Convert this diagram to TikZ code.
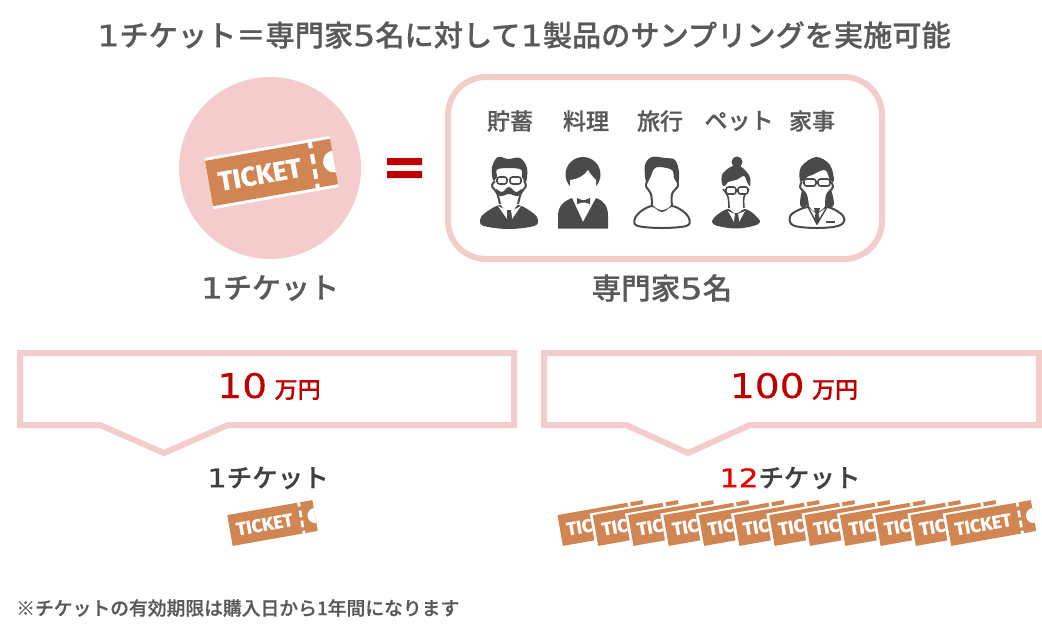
\documentclass[tikz,border=0pt]{standalone}
\usepackage{fontspec}
\setmainfont[BoldFont={Noto Sans CJK JP Medium},BoldFeatures={FakeBold=0.6}]{Noto Sans CJK JP}
\newfontfamily\dgfont[FakeStretch=1.2,FakeBold=0.9]{DejaVu Sans}
\newfontfamily\dgthin[FakeStretch=1.15,FakeBold=0.3]{DejaVu Sans}
\newfontfamily\tkfont[BoldFeatures={FakeBold=1}]{Fira Sans}
\definecolor{pinkc}{HTML}{F4CCCC}
\definecolor{tick}{HTML}{D08552}
\definecolor{gtext}{HTML}{595959}
\definecolor{dtext}{HTML}{404040}
\definecolor{redc}{HTML}{C00000}
\definecolor{brightred}{HTML}{E60000}
\definecolor{icon}{HTML}{4A4A4A}
\newcommand\dgt[1]{{\dgfont\mdseries #1}}
\newcommand\dgr[1]{{\dgthin\mdseries #1}}
\newcommand\fs[1]{\fontsize{#1}{#1}\selectfont}
\tikzset{
 lbl/.style={inner sep=0,anchor=center,text=gtext,font=\bfseries},
 pinkline/.style={draw=pinkc,line width=6pt,line join=miter,fill=white},
 icline/.style={draw=icon,line width=2pt,fill=white,line join=round},
 glass/.style={draw=icon,line width=1.6pt,rounded corners=2.5pt,fill=white},
 sm/.style={smooth cycle,tension=.6},
 sl/.style={smooth,tension=.6},
}
% \ticket{cx}{cy}{scale}{text}{left white margin}
\newcommand\ticket[5]{%
\begin{scope}[shift={(#1,#2)},rotate=10,scale=#3]
 \fill[white] (-63.5-#5,-26) rectangle (63.5,26);
 \fill[tick] (-63.5,-23) rectangle (63.5,23);
 \begin{scope}
  \clip (-63.5,-23) rectangle (63.5,23);
  \fill[white] (63.5,0) circle (11);
 \end{scope}
 \fill[white] (41,-26) rectangle (45,-17) (41,-11) rectangle (45,-1) (41,4) rectangle (45,14) (41,19) rectangle (45,26);
 \node[transform shape,inner sep=0,anchor=west,text=white,font=\tkfont\bfseries\fs{27}] at (-54,0) {#4};
\end{scope}}
\begin{document}
\begin{tikzpicture}[x=1pt,y=-1pt]
\useasboundingbox (0,0) rectangle (1042,630);
% title
\node[lbl,font=\bfseries\fs{29.2}] (title) at (524,35) {\dgt{1}チケット＝専門家\dgt{5}名に対して\dgt{1}製品のサンプリングを実施可能};
% circle + ticket
\node[circle,fill=pinkc,minimum size=182pt,inner sep=0] (circ) at (270,168) {};
\ticket{271.5}{172.5}{1}{TICKET}{0}
% equals
\fill[redc] (387,158) rectangle (422,165) (387,171) rectangle (422,178);
% experts box
\node[draw=pinkc,line width=6pt,rounded corners=38pt,minimum width=434pt,minimum height=182pt,inner sep=0] (box) at (665,168) {};
\node[lbl,font=\bfseries\fs{23}] (l1) at (510,121) {貯蓄};
\node[lbl,font=\bfseries\fs{23}] (l2) at (586,121) {料理};
\node[lbl,font=\bfseries\fs{23}] (l3) at (660,121) {旅行};
\node[lbl,font=\bfseries\fs{23}] (l4) at (739,121) {ペット};
\node[lbl,font=\bfseries\fs{23}] (l5) at (812,121) {家事};
% person 1
\fill[icon] plot[sm] coordinates {(480,220)(485,213)(500,205)(509,212)(518,205)(533,213)(538,220)(534,226)(509,229)(484,226)};
\path[fill=white] plot[sm] coordinates {(495,182)(492,186)(497,193)(500,203)(509,214)(518,203)(521,193)(526,186)(523,182)(509,168)};
\draw[icline,fill=none] plot[sl] coordinates {(500,204)(497,193)(492,186)(495,181)};
\draw[icline,fill=none] plot[sl] coordinates {(518,204)(521,193)(526,186)(524,181)};
\fill[icon] plot[sm] coordinates {(493,180)(492,167)(498,157)(508,159)(520,158)(527,168)(526,182)(522,177)(520,169)(498,169)(497,177)};
\draw[glass] (497,177) rectangle (507,184);
\draw[glass] (510,177) rectangle (521,184);
\fill[icon] plot[sm] coordinates {(502,192)(509,187)(516,192)(522,189)(518,196)(509,194)(500,196)(496,189)};
\fill[white] (498,206) -- (507,219) -- (508,211) -- cycle (521,206) -- (512,219) -- (511,211) -- cycle;
\fill[icon] (507,210) -- (511,210) -- (512,220) -- (509.5,224) -- (507,220) -- cycle;
% person 2
\fill[icon] (558,228.5) -- (558,216) .. controls (558,206) and (564,201) .. (572,198) -- (583,222) -- (596,198) .. controls (604,201) and (608,206) .. (608,216) -- (608,228.5) -- cycle;
\fill[icon] (583,174.5) circle (17.5);
\path[fill=white] (570,192) -- (570,180) .. controls (578,179) and (584,176) .. (588,170) .. controls (590,174) and (594,178) .. (596,180) -- (596,192) -- cycle;
\fill[icon] (577,198) -- (582,200) -- (585,200) -- (590,198) -- (590,204) -- (585,202.5) -- (582,202.5) -- (577,204) -- cycle;
% person 3
\draw[icline] plot[sm] coordinates {(634.5,220)(640,212)(652,206)(662,211)(672,206)(684,212)(689.5,220)(686,226)(662,228)(638,226)};
\path[fill=white] plot[sm] coordinates {(647,180)(645,186)(650,193)(653,205)(662,210)(671,205)(673,194)(678,186)(677,180)(662,168)};
\draw[icline,fill=none] plot[sl] coordinates {(652,206)(651,194)(646,186)(648,180)};
\draw[icline,fill=none] plot[sl] coordinates {(672,206)(672,194)(678,186)(677,180)};
\fill[icon] plot[sm] coordinates {(646,182)(645,165)(652,157)(665,158)(675,160)(679,172)(678,183)(674,178)(672,170)(660,167)(654,169)(650,178)};
% person 4
\fill[icon] plot[sm] coordinates {(712,222)(717,215)(728,209)(736,214)(745,209)(755,215)(760,222)(753,226)(736,228.5)(718,226)};
\path[fill=white] plot[sm] coordinates {(723,188)(728,197)(728,207)(736,212)(744,207)(744,197)(749,188)(736,172)};
\draw[icline,fill=none,line width=1.6pt] plot[sl] coordinates {(729,208)(728,197)(723,189)};
\draw[icline,fill=none,line width=1.6pt] plot[sl] coordinates {(744,208)(744,197)(749,189)};
\fill[icon] (737,162) circle (5.5);
\fill[icon] plot[sm] coordinates {(722,184)(723,173)(737,165)(749,175)(750,186)(747,182)(744,176)(736,180)(728,182)(725,186)};
\draw[glass] (726,187) rectangle (736,194);
\draw[glass] (738,187) rectangle (748,194);
\fill[white] (728,211) -- (734,222) -- (735,214) -- cycle (745,211) -- (739,222) -- (738,214) -- cycle;
\fill[icon] (735,213) -- (738,213) -- (739,222) -- (736.5,226) -- (734.5,222) -- cycle;
% person 5
\draw[icline] plot[sm] coordinates {(789.5,220)(793,213)(808,207)(817,212)(827,207)(840,213)(844.5,220)(838,226)(817,228)(795,226)};
\fill[icon] plot[sm] coordinates {(803,188)(800,203)(803,208)(808,203)(809,195)};
\fill[icon] plot[sm] coordinates {(830,188)(834,203)(830,208)(825,203)(825,195)};
\path[fill=white] plot[sm] coordinates {(802,183)(800,187)(806,195)(809,206)(817,212)(825,206)(827,195)(833,187)(830,183)(817,170)};
\draw[icline,fill=none] plot[sl] coordinates {(808,207)(806,195)(800,187)(802,182)};
\draw[icline,fill=none] plot[sl] coordinates {(826,207)(827,195)(833,187)(831,182)};
\fill[icon] plot[sm] coordinates {(800,181)(801,167)(816,157)(830,165)(834,181)(830,180)(825,170)(812,175)(807,177)(804,180)};
\draw[glass] (804,179) rectangle (816,186);
\draw[glass] (818,179) rectangle (830,186);
\draw[icon,line width=1.4pt,line join=round] (808,207) -- (817,224) -- (827,207);
\fill[icon] (814,208) -- (820,208) -- (818.5,214) -- (820,220) -- (817,225) -- (814,220) -- (815.5,214) -- cycle;
\fill[icon] (826,220.5) rectangle (835,222.5);
% captions
\node[lbl,font=\bfseries\fs{29}] (cap1) at (270,288) {\dgt{1}チケット};
\node[lbl,font=\bfseries\fs{29.5}] (cap2) at (662,288) {専門家\dgt{5}名};
% price boxes
\draw[pinkline] (20,353) -- (514,353) -- (514,425) -- (228,425) -- (164,453) -- (100,425) -- (20,425) -- cycle;
\draw[pinkline] (544,353) -- (1039,353) -- (1039,425) -- (750,425) -- (688,453) -- (626,425) -- (544,425) -- cycle;
\node[lbl,anchor=base,text=redc,font=\fs{34}] (p1) at (269,398) {\dgr{10}\hspace{.22em}{\bfseries\fs{23}万円}};
\node[lbl,anchor=base,text=redc,font=\fs{34}] (p2) at (794,398) {\dgr{100}\hspace{.22em}{\bfseries\fs{23}万円}};
% counts
\node[lbl,text=dtext,font=\bfseries\fs{25.5}] (c1) at (268,478) {\dgt{1}チケット};
\node[lbl,text=dtext,font=\bfseries\fs{25.5}] (c2) at (790,478) {\textcolor{brightred}{\dgt{12}}チケット};
% tickets
\ticket{272.5}{523}{.68}{TICKET}{0}
\ticket{602.7}{523}{.68}{TIC}{0}
\ticket{638}{523}{.68}{TIC}{4}
\ticket{673.3}{523}{.68}{TIC}{4}
\ticket{708.6}{523}{.68}{TIC}{4}
\ticket{743.9}{523}{.68}{TIC}{4}
\ticket{779.2}{523}{.68}{TIC}{4}
\ticket{814.5}{523}{.68}{TIC}{4}
\ticket{849.8}{523}{.68}{TIC}{4}
\ticket{885.1}{523}{.68}{TIC}{4}
\ticket{920.4}{523}{.68}{TIC}{4}
\ticket{955.7}{523}{.68}{TIC}{4}
\ticket{991}{523}{.68}{TICKET}{4}
% footnote
\node[lbl,anchor=west,font=\bfseries\fs{18.8}] (foot) at (16,608) {※チケットの有効期限は購入日から1年間になります};
\end{tikzpicture}
\end{document}
